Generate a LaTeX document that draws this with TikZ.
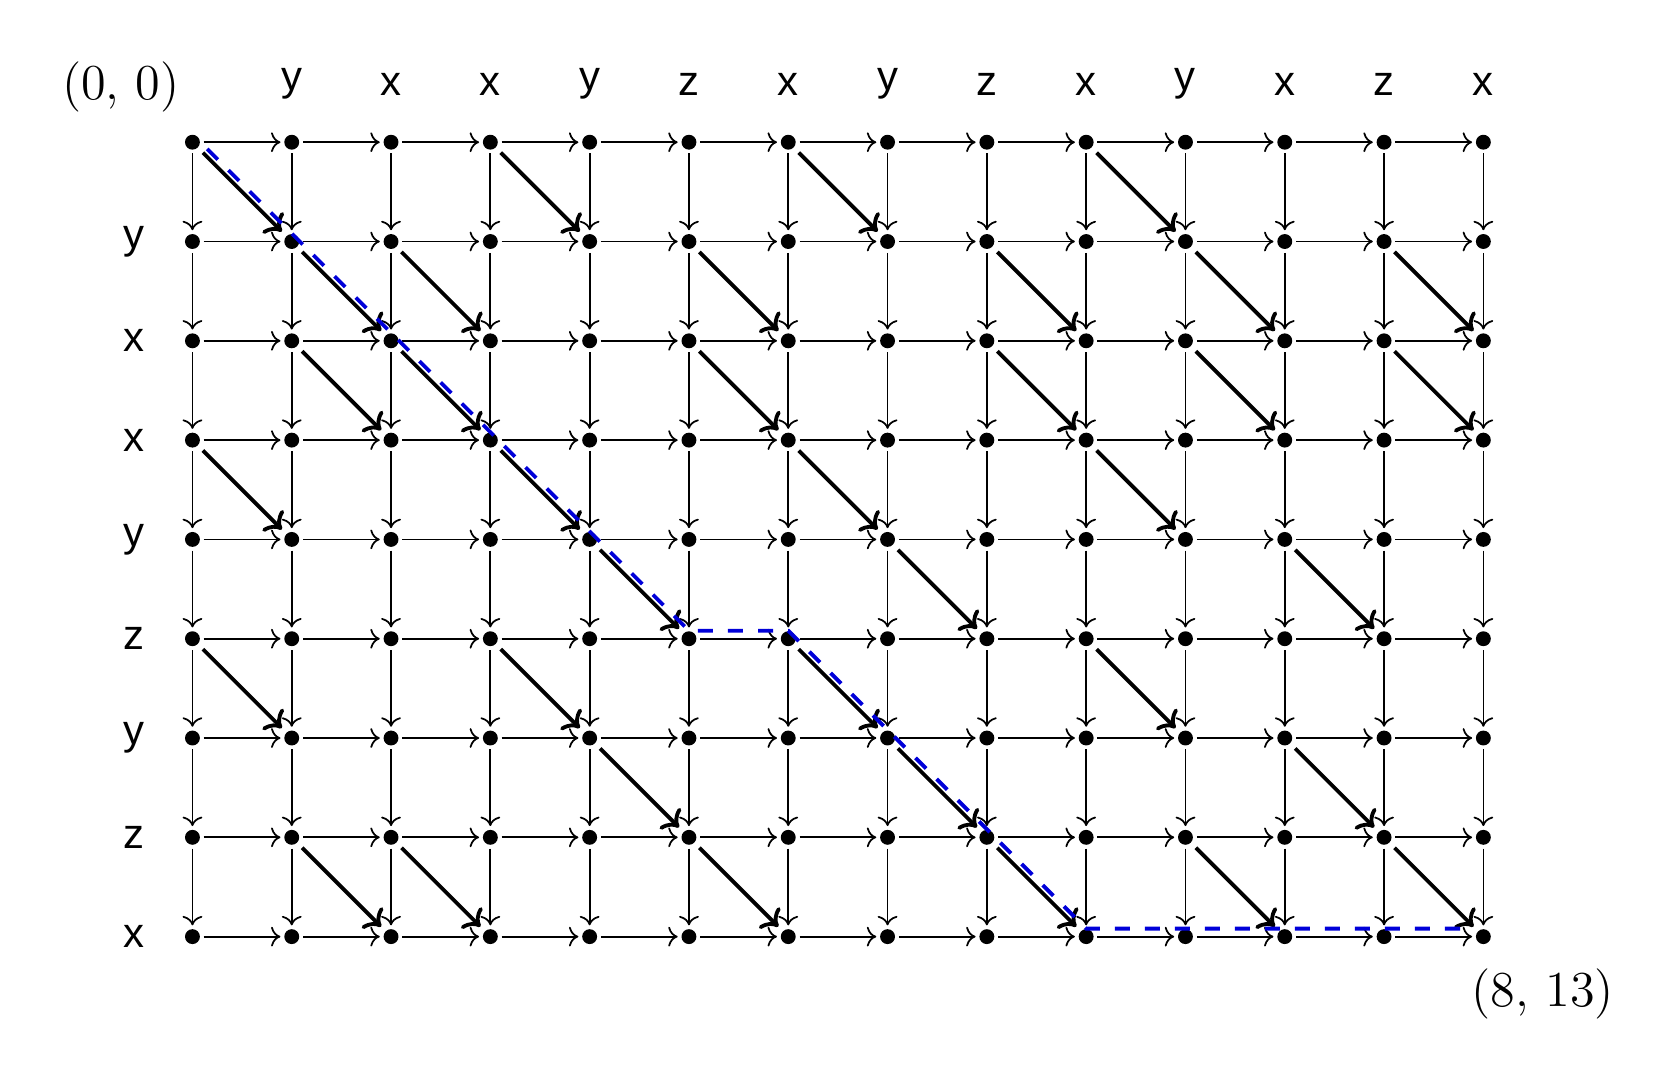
\documentclass[tikz,border=0pt]{standalone}
\usepackage{fontspec}
\setsansfont{Liberation Sans}
\usetikzlibrary{arrows,arrows.meta}

\begin{document}
\begin{tikzpicture}[x=1cm, y=-1cm, every node/.style={}]

            \tikzset{dot/.style={circle, fill, inner sep=0pt, minimum size=1.5mm, outer sep=1.1pt},
                     step edge/.style={->, line width=0.5pt},
                     match edge/.style={->, line width=1.1pt, shorten >=0.8pt, shorten <=1pt},
                     letter/.style={font=\sffamily\large}}

            \useasboundingbox (-1.938,-1.432) rectangle (14.940,9.444);

            % grid points
            \foreach \i in {0,...,8}
                \foreach \j in {0,...,13}
                    \node[dot] (v-\i-\j) at (\j,\i) {};

            % the two words
            \foreach \c [count=\j] in {y,x,x,y,z,x,y,z,x,y,x,z,x}
                \node[letter] (col-\j) at (\j,-0.585) {\c};
            \foreach \c [count=\i] in {y,x,x,y,z,y,z,x}
                \node[letter] (row-\i) at (-0.593,\i) {\c};

            \node[font=\Large] (start) at (-0.72,-0.56) {(0, 0)};
            \node[font=\Large] (end) at (13.6,8.58) {(8, 13)};

            % horizontal and vertical steps
            \foreach \i in {0,...,8}
                \foreach \j [count=\k] in {0,...,12}
                    \draw[step edge] (v-\i-\j) -- (v-\i-\k);
            \foreach \i [count=\k] in {0,...,7}
                \foreach \j in {0,...,13}
                    \draw[step edge] (v-\i-\j) -- (v-\k-\j);

            % diagonal steps where the letters match
            \foreach \a [count=\i] in {y,x,x,y,z,y,z,x}
                \foreach \b [count=\j] in {y,x,x,y,z,x,y,z,x,y,x,z,x} {
                    \edef\ta{\a}\edef\tb{\b}
                    \pgfmathtruncatemacro{\pi}{\i-1}
                    \pgfmathtruncatemacro{\pj}{\j-1}
                    \ifx\ta\tb
                        \draw[match edge] (v-\pi-\pj) -- (v-\i-\j);
                    \fi
                }

            % one longest common subsequence
            \draw[blue!85!black, line width=1.1pt, dash pattern=on 4.3pt off 4.3pt,
                  shorten <=0.21cm, shorten >=0.18cm, transform canvas={yshift=2.3pt}]
                (v-0-0.center) -- (v-1-1.center) -- (v-2-2.center) -- (v-3-3.center)
                -- (v-4-4.center) -- (v-5-5.center) -- (v-5-6.center) -- (v-6-7.center)
                -- (v-7-8.center) -- (v-8-9.center) -- (v-8-13.center);

        \end{tikzpicture}
\end{document}
